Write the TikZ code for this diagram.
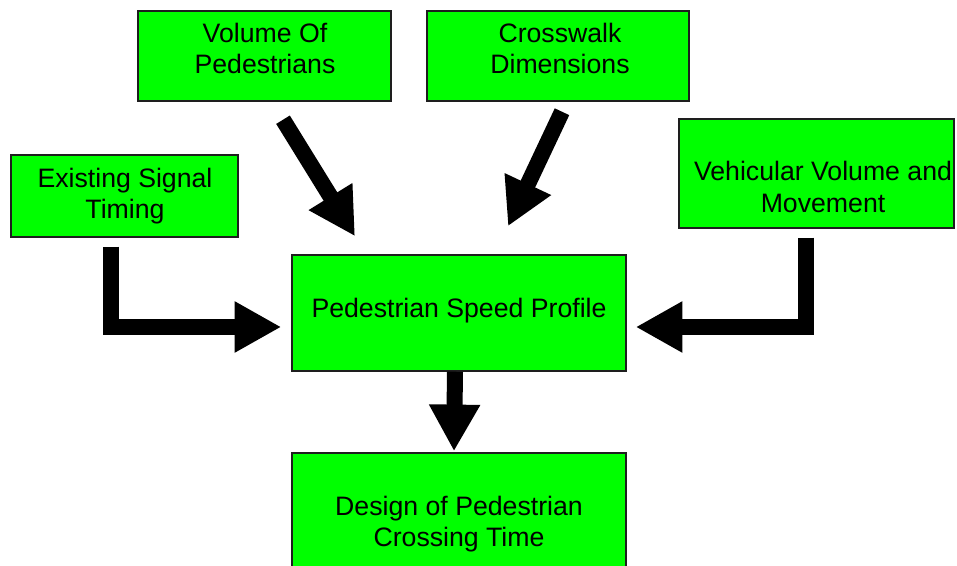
\documentclass[tikz,border=0pt]{standalone}
\usepackage{fontspec}
\setmainfont{Liberation Sans}
\usetikzlibrary{arrows.meta,calc}
\begin{document}
\begin{tikzpicture}[
		x=0.75pt,y=-0.75pt,
		every node/.style={font=\fontsize{20}{23.4}\selectfont},
		hop/.style={draw=MauVien,fill=MauHop,line width=1.1pt,inner sep=0pt},
		chu/.style={align=center,inner sep=0pt},
		muiten/.style={line width=12pt,-{Triangle[width=36pt,length=35pt]}}
	]
		\definecolor{MauHop}{RGB}{0,255,0}
		\definecolor{MauVien}{RGB}{30,30,30}
		\clip (0,0) rectangle (957,566);
		\node[hop,minimum width=189.75pt,minimum height=67.5pt]
			(vol) at (264.5,56) {};
		\node[hop,minimum width=196.5pt,minimum height=67.5pt]
			(cross) at (558,56) {};
		\node[hop,minimum width=170.25pt,minimum height=61.5pt]
			(sig) at (124.5,196) {};
		\node[hop,minimum width=206.25pt,minimum height=81.75pt]
			(veh) at (816.5,173.5) {};
		\node[hop,minimum width=250.5pt,minimum height=87pt]
			(speed) at (459,313) {};
		\node[hop,minimum width=250.5pt,minimum height=117.75pt]
			(design) at (459,531.5) {};
		\node[chu] (volT) at (265,48.5)
			{Volume Of\\Pedestrians};
		\node[chu] (crossT) at (560,48.5)
			{Crosswalk\\Dimensions};
		\node[chu] (sigT) at (125,196)
			{Existing Signal\\Timing};
		\node[chu] (vehT) at (823,187)
			{Vehicular Volume and\\Movement};
		\node[chu] (speedT) at (459,311)
			{Pedestrian Speed Profile};
		\node[chu] (designT) at (459,524.5)
			{Design of Pedestrian\\Crossing Time};
		\draw[muiten] ($(vol.south)+(18.5,18)$)
			-- ($(speed.north)+(-104,-18)$);
		\draw[muiten] ($(cross.south)+(4,10)$)
			-- ($(speed.north)+(49,-28)$);
		\draw[muiten] ($(sig.south)+(-13.5,9)$)
			|- ($(speed.west)+(-10,14)$);
		\draw[muiten] ($(veh.south)+(-10.5,9)$)
			|- ($(speed.east)+(9,14)$);
		\draw[muiten] ($(speed.south)+(-4,0)$)
			-- ($(design.north)+(-5,-1)$);
	\end{tikzpicture}
\end{document}
